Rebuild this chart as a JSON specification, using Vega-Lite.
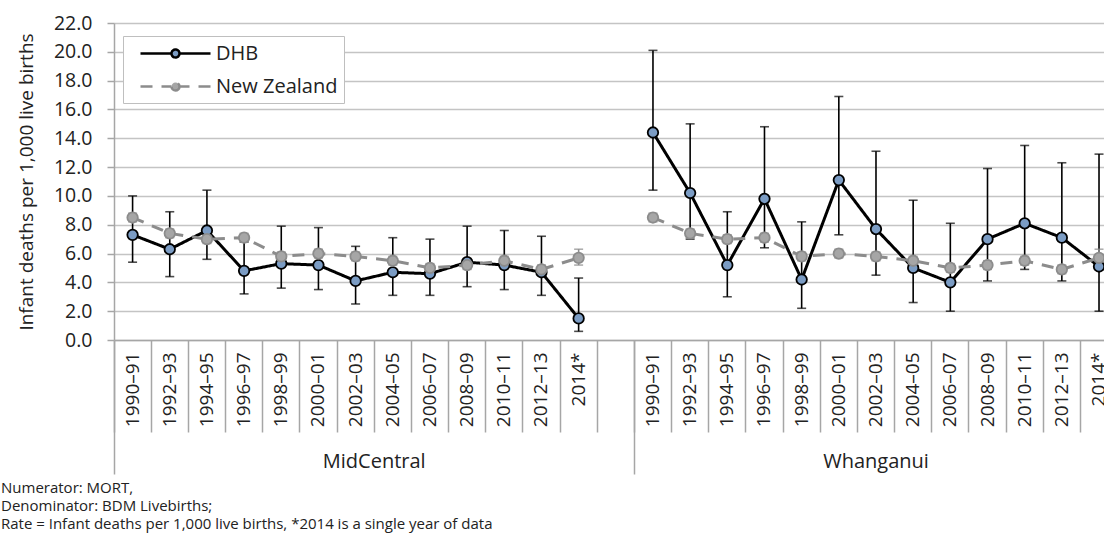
{
  "$schema": "https://vega.github.io/schema/vega-lite/v6.json",
  "width": 990,
  "height": 317,
  "autosize": {"type": "none"},
  "padding": {"left": 114, "top": 23, "right": 0, "bottom": 193},
  "background": "white",
  "config": {
    "font": "Open Sans",
    "view": {"stroke": null},
    "axis": {"labelFont": "Open Sans", "titleFont": "Open Sans", "labelColor": "#222222", "titleColor": "#222222"},
    "axisY": {
      "labelFontSize": 19.5,
      "labelPadding": 15,
      "labelOverlap": false,
      "tickSize": 7,
      "tickColor": "#a6a6a6",
      "tickWidth": 1.5,
      "domainColor": "#a6a6a6",
      "domainWidth": 1.5,
      "gridColor": "#c4c4c4",
      "gridWidth": 1.5,
      "titleFontSize": 19,
      "titleFontWeight": "normal",
      "titlePadding": 17
    }
  },
  "title": {
    "text": ["Numerator: MORT,", "Denominator: BDM Livebirths;", "Rate = Infant deaths per 1,000 live births, *2014 is a single year of data"],
    "orient": "bottom",
    "anchor": "start",
    "frame": "group",
    "dx": -113,
    "offset": 6,
    "fontSize": 15,
    "fontWeight": "normal",
    "font": "Open Sans",
    "color": "#222222",
    "lineHeight": 18,
    "baseline": "top"
  },
  "datasets": {
    "main": [
      {"region": "MidCentral", "period": "1990–91", "series": "DHB", "rate": 7.3, "lo": 5.4, "hi": 10.0},
      {"region": "MidCentral", "period": "1992–93", "series": "DHB", "rate": 6.3, "lo": 4.4, "hi": 8.9},
      {"region": "MidCentral", "period": "1994–95", "series": "DHB", "rate": 7.6, "lo": 5.6, "hi": 10.4},
      {"region": "MidCentral", "period": "1996–97", "series": "DHB", "rate": 4.8, "lo": 3.2, "hi": 6.8},
      {"region": "MidCentral", "period": "1998–99", "series": "DHB", "rate": 5.3, "lo": 3.6, "hi": 7.9},
      {"region": "MidCentral", "period": "2000–01", "series": "DHB", "rate": 5.2, "lo": 3.5, "hi": 7.8},
      {"region": "MidCentral", "period": "2002–03", "series": "DHB", "rate": 4.1, "lo": 2.5, "hi": 6.5},
      {"region": "MidCentral", "period": "2004–05", "series": "DHB", "rate": 4.7, "lo": 3.1, "hi": 7.1},
      {"region": "MidCentral", "period": "2006–07", "series": "DHB", "rate": 4.6, "lo": 3.1, "hi": 7.0},
      {"region": "MidCentral", "period": "2008–09", "series": "DHB", "rate": 5.4, "lo": 3.7, "hi": 7.9},
      {"region": "MidCentral", "period": "2010–11", "series": "DHB", "rate": 5.2, "lo": 3.5, "hi": 7.6},
      {"region": "MidCentral", "period": "2012–13", "series": "DHB", "rate": 4.7, "lo": 3.1, "hi": 7.2},
      {"region": "MidCentral", "period": "2014*", "series": "DHB", "rate": 1.5, "lo": 0.6, "hi": 4.3},
      {"region": "Whanganui", "period": "1990–91", "series": "DHB", "rate": 14.4, "lo": 10.4, "hi": 20.1},
      {"region": "Whanganui", "period": "1992–93", "series": "DHB", "rate": 10.2, "lo": 7.0, "hi": 15.0},
      {"region": "Whanganui", "period": "1994–95", "series": "DHB", "rate": 5.2, "lo": 3.0, "hi": 8.9},
      {"region": "Whanganui", "period": "1996–97", "series": "DHB", "rate": 9.8, "lo": 6.4, "hi": 14.8},
      {"region": "Whanganui", "period": "1998–99", "series": "DHB", "rate": 4.2, "lo": 2.2, "hi": 8.2},
      {"region": "Whanganui", "period": "2000–01", "series": "DHB", "rate": 11.1, "lo": 7.3, "hi": 16.9},
      {"region": "Whanganui", "period": "2002–03", "series": "DHB", "rate": 7.7, "lo": 4.5, "hi": 13.1},
      {"region": "Whanganui", "period": "2004–05", "series": "DHB", "rate": 5.0, "lo": 2.6, "hi": 9.7},
      {"region": "Whanganui", "period": "2006–07", "series": "DHB", "rate": 4.0, "lo": 2.0, "hi": 8.1},
      {"region": "Whanganui", "period": "2008–09", "series": "DHB", "rate": 7.0, "lo": 4.1, "hi": 11.9},
      {"region": "Whanganui", "period": "2010–11", "series": "DHB", "rate": 8.1, "lo": 4.9, "hi": 13.5},
      {"region": "Whanganui", "period": "2012–13", "series": "DHB", "rate": 7.1, "lo": 4.1, "hi": 12.3},
      {"region": "Whanganui", "period": "2014*", "series": "DHB", "rate": 5.1, "lo": 2.0, "hi": 12.9},
      {"region": "MidCentral", "period": "1990–91", "series": "New Zealand", "rate": 8.5, "lo": 8.2, "hi": 8.8},
      {"region": "MidCentral", "period": "1992–93", "series": "New Zealand", "rate": 7.4, "lo": 7.1, "hi": 7.7},
      {"region": "MidCentral", "period": "1994–95", "series": "New Zealand", "rate": 7.0, "lo": 6.7, "hi": 7.3},
      {"region": "MidCentral", "period": "1996–97", "series": "New Zealand", "rate": 7.1, "lo": 6.8, "hi": 7.4},
      {"region": "MidCentral", "period": "1998–99", "series": "New Zealand", "rate": 5.8, "lo": 5.5, "hi": 6.1},
      {"region": "MidCentral", "period": "2000–01", "series": "New Zealand", "rate": 6.0, "lo": 5.7, "hi": 6.3},
      {"region": "MidCentral", "period": "2002–03", "series": "New Zealand", "rate": 5.8, "lo": 5.5, "hi": 6.1},
      {"region": "MidCentral", "period": "2004–05", "series": "New Zealand", "rate": 5.5, "lo": 5.2, "hi": 5.8},
      {"region": "MidCentral", "period": "2006–07", "series": "New Zealand", "rate": 5.0, "lo": 4.7, "hi": 5.3},
      {"region": "MidCentral", "period": "2008–09", "series": "New Zealand", "rate": 5.2, "lo": 4.9, "hi": 5.5},
      {"region": "MidCentral", "period": "2010–11", "series": "New Zealand", "rate": 5.5, "lo": 5.2, "hi": 5.8},
      {"region": "MidCentral", "period": "2012–13", "series": "New Zealand", "rate": 4.9, "lo": 4.6, "hi": 5.2},
      {"region": "MidCentral", "period": "2014*", "series": "New Zealand", "rate": 5.7, "lo": 5.2, "hi": 6.3},
      {"region": "Whanganui", "period": "1990–91", "series": "New Zealand", "rate": 8.5, "lo": 8.2, "hi": 8.8},
      {"region": "Whanganui", "period": "1992–93", "series": "New Zealand", "rate": 7.4, "lo": 7.1, "hi": 7.7},
      {"region": "Whanganui", "period": "1994–95", "series": "New Zealand", "rate": 7.0, "lo": 6.7, "hi": 7.3},
      {"region": "Whanganui", "period": "1996–97", "series": "New Zealand", "rate": 7.1, "lo": 6.8, "hi": 7.4},
      {"region": "Whanganui", "period": "1998–99", "series": "New Zealand", "rate": 5.8, "lo": 5.5, "hi": 6.1},
      {"region": "Whanganui", "period": "2000–01", "series": "New Zealand", "rate": 6.0, "lo": 5.7, "hi": 6.3},
      {"region": "Whanganui", "period": "2002–03", "series": "New Zealand", "rate": 5.8, "lo": 5.5, "hi": 6.1},
      {"region": "Whanganui", "period": "2004–05", "series": "New Zealand", "rate": 5.5, "lo": 5.2, "hi": 5.8},
      {"region": "Whanganui", "period": "2006–07", "series": "New Zealand", "rate": 5.0, "lo": 4.7, "hi": 5.3},
      {"region": "Whanganui", "period": "2008–09", "series": "New Zealand", "rate": 5.2, "lo": 4.9, "hi": 5.5},
      {"region": "Whanganui", "period": "2010–11", "series": "New Zealand", "rate": 5.5, "lo": 5.2, "hi": 5.8},
      {"region": "Whanganui", "period": "2012–13", "series": "New Zealand", "rate": 4.9, "lo": 4.6, "hi": 5.2},
      {"region": "Whanganui", "period": "2014*", "series": "New Zealand", "rate": 5.7, "lo": 5.2, "hi": 6.3}
    ]
  },
  "layer": [
    {
      "data": {"name": "main"},
      "transform": [{"calculate": "datum.region + '|' + datum.period", "as": "cat"}],
      "encoding": {
        "x": {
          "field": "cat",
          "type": "nominal",
          "scale": {
            "domain": ["MidCentral|1990–91", "MidCentral|1992–93", "MidCentral|1994–95", "MidCentral|1996–97", "MidCentral|1998–99", "MidCentral|2000–01", "MidCentral|2002–03", "MidCentral|2004–05", "MidCentral|2006–07", "MidCentral|2008–09", "MidCentral|2010–11", "MidCentral|2012–13", "MidCentral|2014*", "MidCentral|", "Whanganui|1990–91", "Whanganui|1992–93", "Whanganui|1994–95", "Whanganui|1996–97", "Whanganui|1998–99", "Whanganui|2000–01", "Whanganui|2002–03", "Whanganui|2004–05", "Whanganui|2006–07", "Whanganui|2008–09", "Whanganui|2010–11", "Whanganui|2012–13", "Whanganui|2014*"],
            "range": [0, 1003.6],
            "paddingInner": 0,
            "paddingOuter": 0
          },
          "axis": {
            "title": null,
            "orient": "bottom",
            "bandPosition": 0,
            "labelExpr": "split(datum.label, '|')[1]",
            "labelAngle": 270,
            "labelAlign": "right",
            "labelBaseline": "middle",
            "labelPadding": -80,
            "labelFontSize": 19,
            "labelOverlap": false,
            "tickSize": 92,
            "tickColor": "#a6a6a6",
            "tickWidth": 1.5,
            "domainColor": "#a6a6a6",
            "domainWidth": 1.5,
            "grid": false
          }
        }
      },
      "layer": [
        {
          "transform": [{"filter": "datum.series == 'DHB'"}],
          "mark": {"type": "rule", "color": "#000000", "strokeWidth": 1.6, "clip": true},
          "encoding": {
            "y": {
              "field": "lo",
              "type": "quantitative",
              "scale": {"domain": [0, 22], "nice": false},
              "axis": {"title": "Infant deaths per 1,000 live births", "values": [0, 2, 4, 6, 8, 10, 12, 14, 16, 18, 20, 22], "format": ".1f", "labelOverlap": false}
            },
            "y2": {"field": "hi"}
          }
        },
        {
          "transform": [{"filter": "datum.series == 'DHB'"}],
          "mark": {"type": "tick", "color": "#000000", "thickness": 1.6, "size": 9, "orient": "horizontal", "clip": true},
          "encoding": {"y": {"field": "lo", "type": "quantitative", "scale": {"domain": [0, 22], "nice": false}, "axis": {"title": "Infant deaths per 1,000 live births", "values": [0, 2, 4, 6, 8, 10, 12, 14, 16, 18, 20, 22], "format": ".1f", "labelOverlap": false}}}
        },
        {
          "transform": [{"filter": "datum.series == 'DHB'"}],
          "mark": {"type": "tick", "color": "#000000", "thickness": 1.6, "size": 9, "orient": "horizontal", "clip": true},
          "encoding": {"y": {"field": "hi", "type": "quantitative", "scale": {"domain": [0, 22], "nice": false}, "axis": {"title": "Infant deaths per 1,000 live births", "values": [0, 2, 4, 6, 8, 10, 12, 14, 16, 18, 20, 22], "format": ".1f", "labelOverlap": false}}}
        },
        {
          "transform": [{"filter": "datum.series == 'New Zealand'"}],
          "mark": {"type": "rule", "color": "#8c8c8c", "strokeWidth": 1.6, "clip": true},
          "encoding": {
            "y": {"field": "lo", "type": "quantitative", "scale": {"domain": [0, 22], "nice": false}, "axis": {"title": "Infant deaths per 1,000 live births", "values": [0, 2, 4, 6, 8, 10, 12, 14, 16, 18, 20, 22], "format": ".1f", "labelOverlap": false}},
            "y2": {"field": "hi"}
          }
        },
        {
          "transform": [{"filter": "datum.series == 'New Zealand'"}],
          "mark": {"type": "tick", "color": "#8c8c8c", "thickness": 1.6, "size": 9, "orient": "horizontal", "clip": true},
          "encoding": {"y": {"field": "lo", "type": "quantitative", "scale": {"domain": [0, 22], "nice": false}, "axis": {"title": "Infant deaths per 1,000 live births", "values": [0, 2, 4, 6, 8, 10, 12, 14, 16, 18, 20, 22], "format": ".1f", "labelOverlap": false}}}
        },
        {
          "transform": [{"filter": "datum.series == 'New Zealand'"}],
          "mark": {"type": "tick", "color": "#8c8c8c", "thickness": 1.6, "size": 9, "orient": "horizontal", "clip": true},
          "encoding": {"y": {"field": "hi", "type": "quantitative", "scale": {"domain": [0, 22], "nice": false}, "axis": {"title": "Infant deaths per 1,000 live births", "values": [0, 2, 4, 6, 8, 10, 12, 14, 16, 18, 20, 22], "format": ".1f", "labelOverlap": false}}}
        },
        {
          "mark": {"type": "line", "strokeWidth": 3, "clip": true},
          "encoding": {
            "y": {"field": "rate", "type": "quantitative", "scale": {"domain": [0, 22], "nice": false}, "axis": {"title": "Infant deaths per 1,000 live births", "values": [0, 2, 4, 6, 8, 10, 12, 14, 16, 18, 20, 22], "format": ".1f", "labelOverlap": false}},
            "detail": {"field": "region"},
            "stroke": {
              "field": "series",
              "type": "nominal",
              "scale": {"domain": ["DHB", "New Zealand"], "range": ["#000000", "#8c8c8c"]},
              "legend": {
                "title": null,
                "orient": "none",
                "legendX": 9,
                "legendY": 13,
                "symbolType": "M-3.5,0H-0.4M3.5,0H0.4M0.4,0A0.4,0.4,0,1,1,-0.4,0A0.4,0.4,0,1,1,0.4,0Z",
                "symbolSize": 400,
                "symbolStrokeWidth": 2.5,
                "symbolOffset": 35,
                "labelOffset": 29,
                "labelFontSize": 20,
                "labelFont": "Open Sans",
                "labelColor": "#222222",
                "strokeColor": "#bfbfbf",
                "fillColor": "white",
                "padding": 6,
                "rowPadding": 11,
                "labelLimit": 300
              }
            },
            "strokeDash": {
              "field": "series",
              "type": "nominal",
              "scale": {"domain": ["DHB", "New Zealand"], "range": [[1, 0], [12, 9]]},
              "legend": {
                "title": null,
                "orient": "none",
                "legendX": 9,
                "legendY": 13,
                "symbolType": "M-3.5,0H-0.4M3.5,0H0.4M0.4,0A0.4,0.4,0,1,1,-0.4,0A0.4,0.4,0,1,1,0.4,0Z",
                "symbolSize": 400,
                "symbolStrokeWidth": 2.5,
                "symbolOffset": 35,
                "labelOffset": 29,
                "padding": 6,
                "rowPadding": 11
              }
            }
          }
        },
        {
          "mark": {"type": "point", "filled": true, "shape": "circle", "size": 110, "strokeWidth": 1.8, "opacity": 1, "clip": true},
          "encoding": {
            "y": {"field": "rate", "type": "quantitative", "scale": {"domain": [0, 22], "nice": false}, "axis": {"title": "Infant deaths per 1,000 live births", "values": [0, 2, 4, 6, 8, 10, 12, 14, 16, 18, 20, 22], "format": ".1f", "labelOverlap": false}},
            "fill": {
              "field": "series",
              "type": "nominal",
              "scale": {"domain": ["DHB", "New Zealand"], "range": ["#7b9cc4", "#a6a6a6"]},
              "legend": {
                "title": null,
                "orient": "none",
                "legendX": 9,
                "legendY": 13,
                "symbolType": "M-3.5,0H-0.4M3.5,0H0.4M0.4,0A0.4,0.4,0,1,1,-0.4,0A0.4,0.4,0,1,1,0.4,0Z",
                "symbolSize": 400,
                "symbolStrokeWidth": 2.5,
                "symbolOffset": 35,
                "labelOffset": 29,
                "padding": 6,
                "rowPadding": 11
              }
            },
            "stroke": {"field": "series", "type": "nominal"}
          }
        }
      ]
    },
    {
      "data": {"values": [{"region": "MidCentral"}, {"region": "Whanganui"}]},
      "mark": {"type": "point", "opacity": 0},
      "encoding": {
        "x": {
          "field": "region",
          "type": "nominal",
          "scale": {"type": "band", "domain": ["MidCentral", "Whanganui"], "range": [0, 1040.8], "paddingInner": 0, "paddingOuter": 0},
          "axis": {
            "title": null,
            "orient": "bottom",
            "domain": false,
            "grid": false,
            "bandPosition": 0,
            "tickSize": 134,
            "tickColor": "#a6a6a6",
            "tickWidth": 1.5,
            "labelAngle": 0,
            "labelAlign": "center",
            "labelBaseline": "top",
            "labelPadding": -23,
            "labelFontSize": 20,
            "labelOffset": {"condition": {"test": "datum.value == 'MidCentral'", "value": 0}, "value": -18.6}
          }
        }
      }
    }
  ],
  "resolve": {"scale": {"x": "independent"}}
}
